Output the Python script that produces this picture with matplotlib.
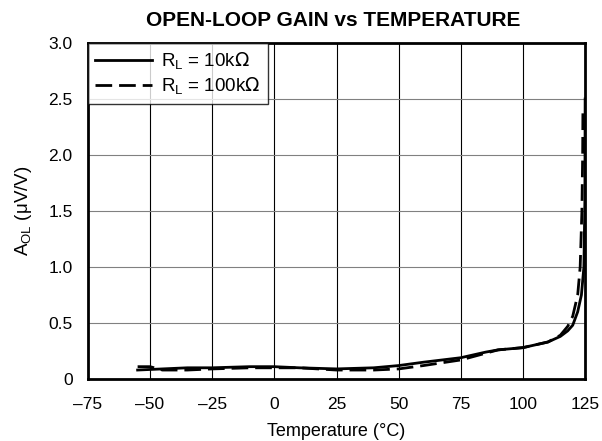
import matplotlib
matplotlib.use('Agg')
from matplotlib import pyplot as plt

plt.rcParams['font.family'] = ['Liberation Sans', 'DejaVu Sans']

# Data
temp_10k = [-55, -45, -35, -25, -10, 0, 10, 25, 40, 50, 60, 75, 85, 90, 100, 110, 115,
            118, 120, 122, 123.5, 124.5, 124.9, 125]
gain_10k = [0.08, 0.09, 0.10, 0.10, 0.11, 0.11, 0.10, 0.09, 0.10, 0.12, 0.15, 0.19, 0.24,
            0.26, 0.28, 0.33, 0.38, 0.43, 0.48, 0.60, 0.75, 1.0, 1.6, 2.5]

temp_100k = [-55, -50, -45, -35, -25, -10, 0, 10, 25, 40, 50, 60, 75, 85, 90, 100, 110, 115,
             118, 120, 122, 123, 123.7, 124.0, 124.1]
gain_100k = [0.11, 0.11, 0.08, 0.08, 0.09, 0.10, 0.10, 0.10, 0.08, 0.08, 0.09, 0.12, 0.17,
             0.23, 0.26, 0.28, 0.33, 0.39, 0.47, 0.56, 0.75, 1.0, 1.5, 2.0, 2.4]

xticks = [-75, -50, -25, 0, 25, 50, 75, 100, 125]
yticks = [0, 0.5, 1.0, 1.5, 2.0, 2.5, 3.0]
ytick_labels = ['0', '0.5', '1.0', '1.5', '2.0', '2.5', '3.0']

fig = plt.figure(figsize=(6.02, 4.41), dpi=100)
ax = fig.add_axes([0.146, 0.1406, 0.826, 0.762])

ax.plot(temp_10k, gain_10k, color='black', linewidth=2, label=r'R$_\mathregular{L}$ = 10k$\Omega$')
ax.plot(temp_100k, gain_100k, color='black', linewidth=2, linestyle=(0, (6, 2.5)),
        label=r'R$_\mathregular{L}$ = 100k$\Omega$')

ax.set_xlim(-75, 125)
ax.set_ylim(0, 3.0)
ax.set_xticks(xticks)
ax.set_xticklabels([str(t).replace('-', '\u2013') for t in xticks])
ax.set_yticks(yticks)
ax.set_yticklabels(ytick_labels)
ax.tick_params(length=0, labelsize=12.5)
ax.tick_params(axis='x', pad=13)
ax.tick_params(axis='y', pad=11)

for x in xticks[1:-1]:
    ax.axvline(x, color='black', linewidth=0.8, zorder=0)
for y in yticks[1:-1]:
    ax.axhline(y, color='#808080', linewidth=0.8, zorder=0)

for s in ax.spines.values():
    s.set_linewidth(2)

fig.text(333.5 / 602, 1 - 20.5 / 441, 'OPEN-LOOP GAIN vs TEMPERATURE', fontsize=15,
         fontweight='bold', ha='center', va='center')
ax.set_xlabel('Temperature (\u00b0C)', fontsize=13, labelpad=8)
ax.set_ylabel(r'A$_\mathregular{OL}$ ($\mathregular{\mu}$V/V)', fontsize=13.5, labelpad=10)

leg = ax.legend(loc='upper left', fontsize=13.5, fancybox=False, frameon=True,
                borderaxespad=0, handlelength=3.0, handletextpad=0.5,
                borderpad=0.4, labelspacing=0.2, edgecolor='black')
leg.get_frame().set_linewidth(1)

plt.savefig('out.png')
